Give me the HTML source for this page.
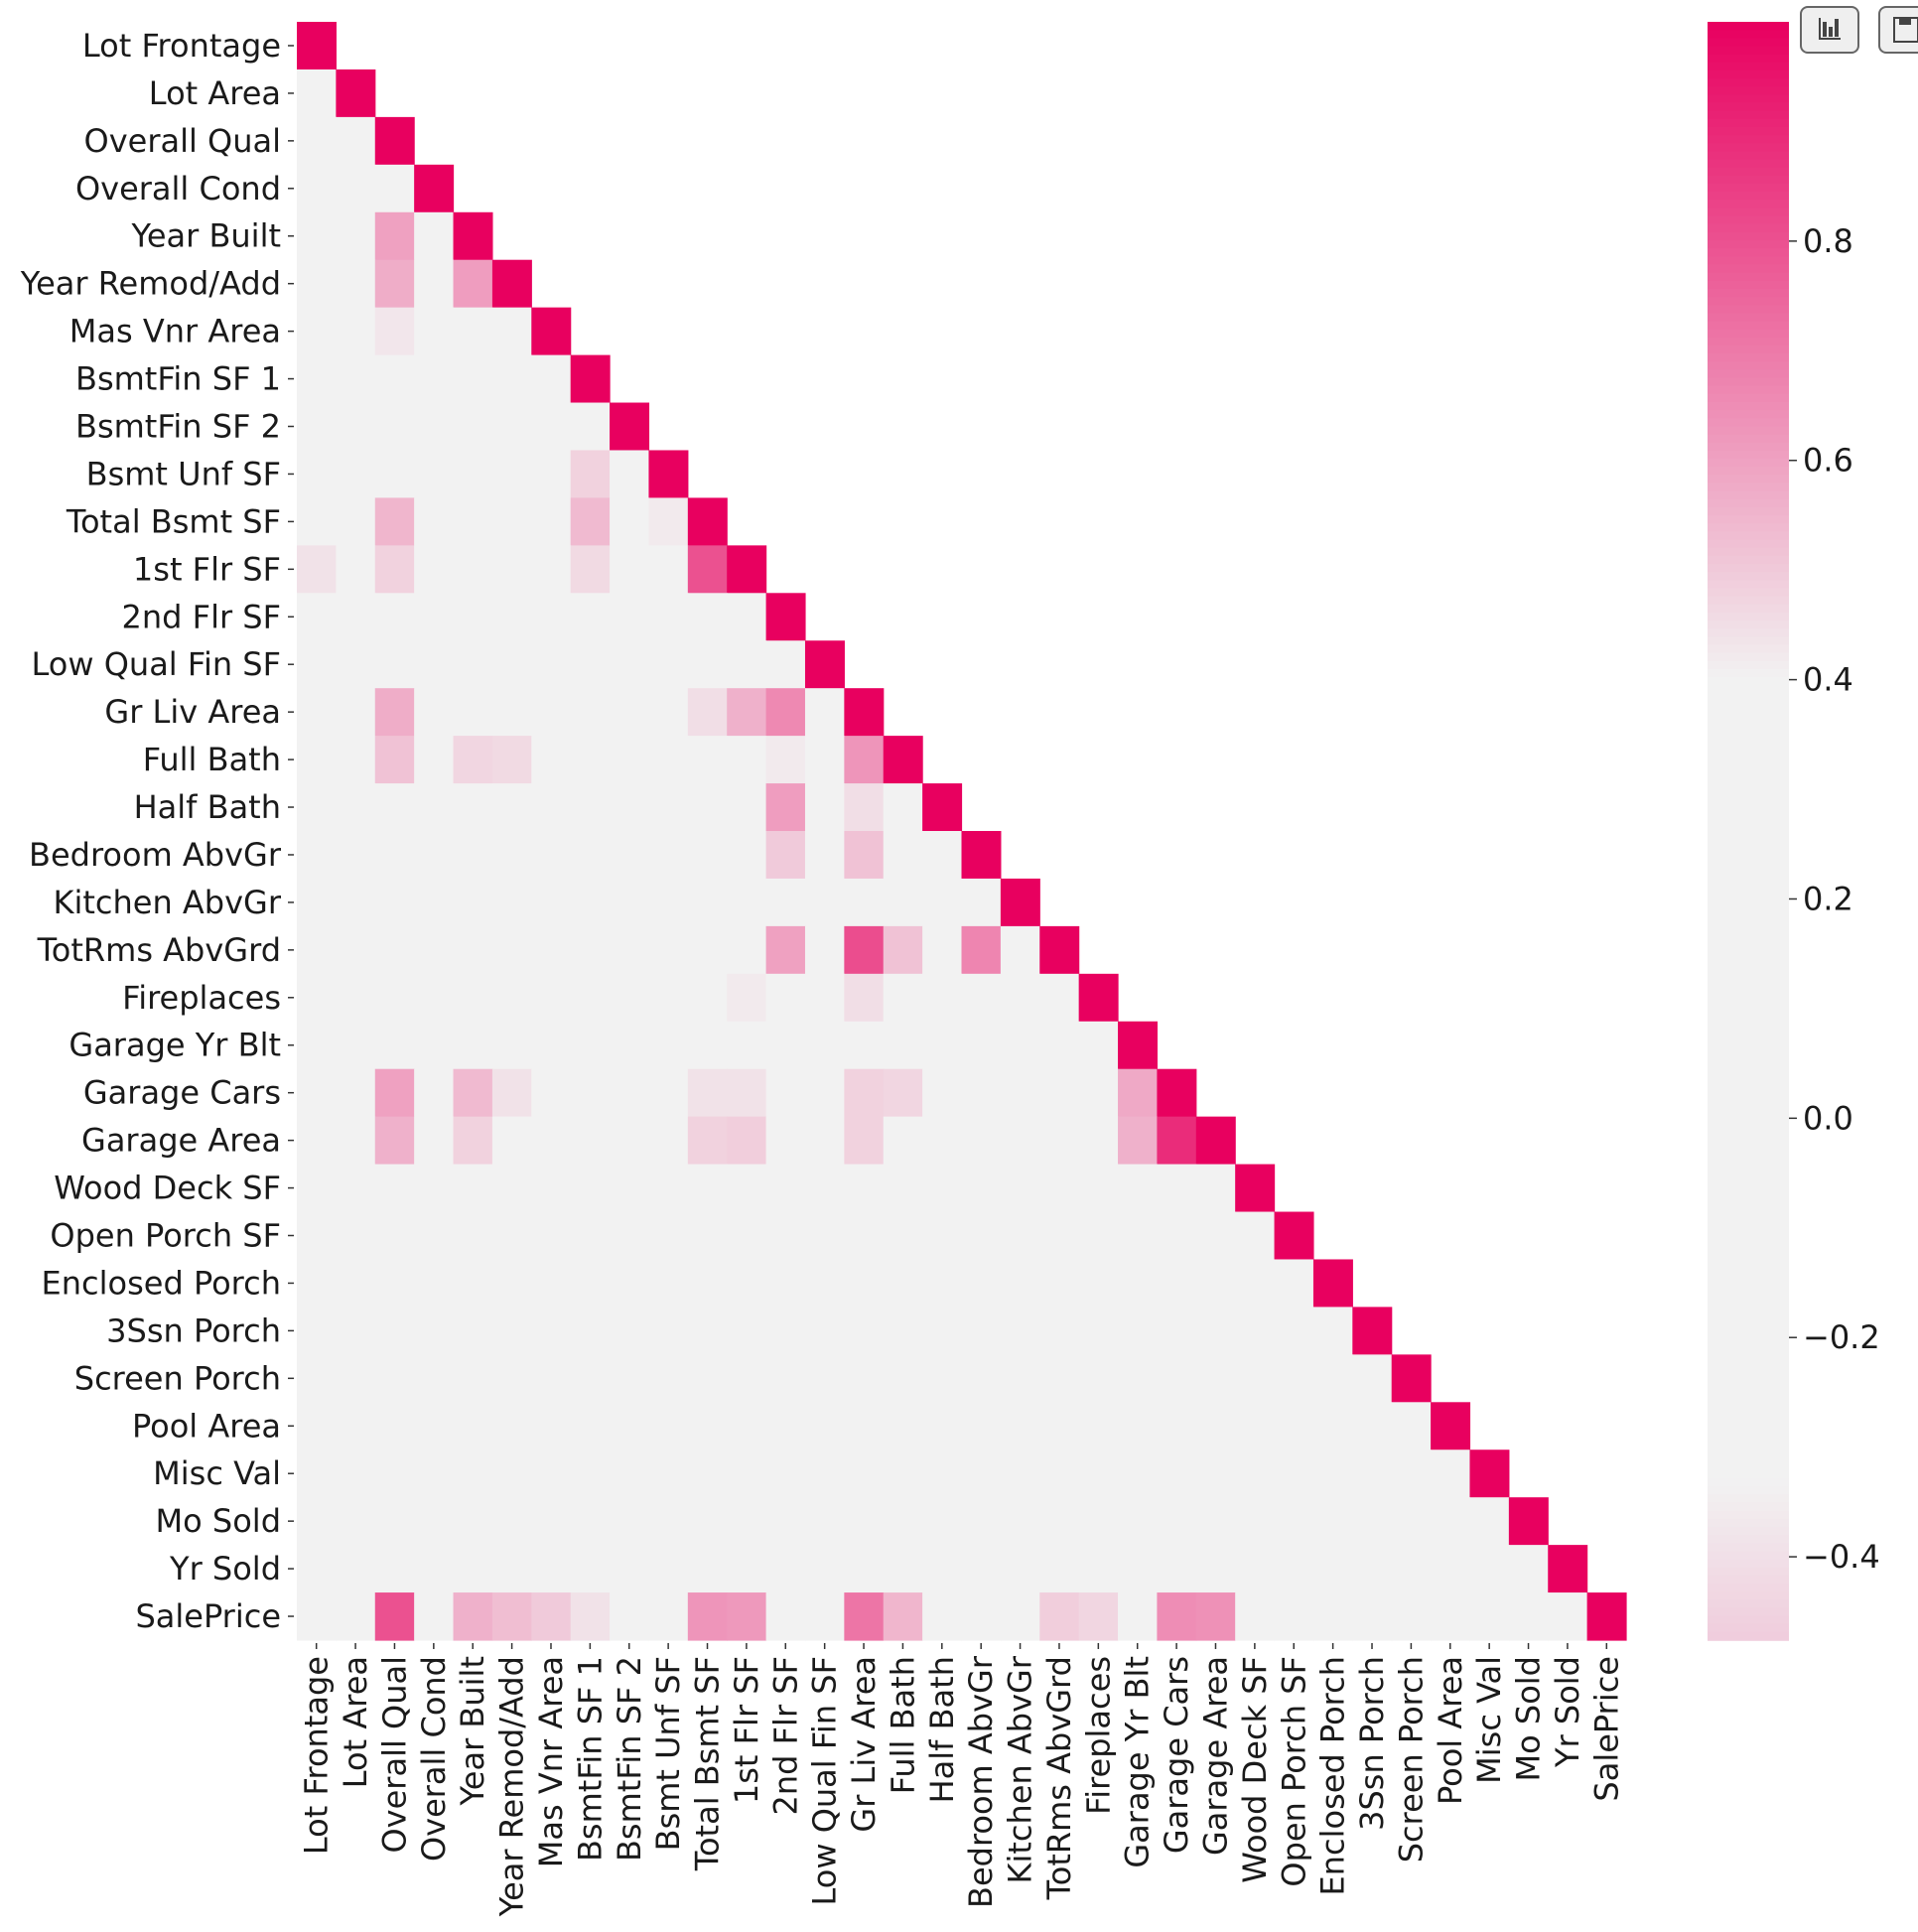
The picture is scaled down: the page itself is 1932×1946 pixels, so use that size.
<!DOCTYPE html>
<html><head><meta charset="utf-8">
<style>
html,body{margin:0;padding:0;background:#fff;width:1932px;height:1946px;overflow:hidden}
svg{display:block}
text{font-family:"DejaVu Sans","Liberation Sans",sans-serif;fill:#1a1a1a}
.btn{position:absolute;top:6px;width:60px;height:48px;border:2px solid #666;border-radius:8px;background:#efefef;box-sizing:border-box}
</style></head><body>
<svg id="chart" width="1932" height="1946" xmlns="http://www.w3.org/2000/svg"></svg>
<div class="btn" style="left:1813px">
<svg width="56" height="44"><rect x="17" y="10" width="2" height="22" fill="#444"/><rect x="17" y="30" width="22" height="2" fill="#444"/><rect x="21" y="14" width="4" height="15" fill="#444"/><rect x="27" y="19" width="4" height="10" fill="#444"/><rect x="33" y="11" width="4" height="18" fill="#444"/></svg></div>
<div class="btn" style="left:1892px">
<svg width="56" height="44"><rect x="14" y="10" width="24" height="24" fill="none" stroke="#444" stroke-width="2"/><rect x="19" y="10" width="12" height="7" fill="#444"/></svg></div>
<script>
const labels=["Lot Frontage","Lot Area","Overall Qual","Overall Cond","Year Built","Year Remod/Add","Mas Vnr Area","BsmtFin SF 1","BsmtFin SF 2","Bsmt Unf SF","Total Bsmt SF","1st Flr SF","2nd Flr SF","Low Qual Fin SF","Gr Liv Area","Full Bath","Half Bath","Bedroom AbvGr","Kitchen AbvGr","TotRms AbvGrd","Fireplaces","Garage Yr Blt","Garage Cars","Garage Area","Wood Deck SF","Open Porch SF","Enclosed Porch","3Ssn Porch","Screen Porch","Pool Area","Misc Val","Mo Sold","Yr Sold","SalePrice"];
// strong correlations [row, col, value]; all other lower-triangle cells are weak (0)
const corrRows=[4,5,5,6,9,10,10,10,10,11,11,11,11,14,14,14,14,15,15,15,15,15,16,16,17,17,19,19,19,19,20,20,22,22,22,22,22,22,22,22,23,23,23,23,23,23,23,33,33,33,33,33,33,33,33,33,33,33,33,33];
const corrCols=[2,2,4,2,7,2,7,9,6,0,2,7,10,2,10,11,12,2,4,5,12,14,12,14,12,14,12,14,15,17,11,14,2,4,5,10,11,14,15,21,2,4,10,11,14,21,22,2,4,5,6,7,10,11,14,15,19,20,22,23];
const corrVals=[0.6,0.57,0.61,0.43,0.48,0.55,0.54,0.42,0.39,0.44,0.48,0.46,0.80,0.57,0.45,0.56,0.66,0.52,0.47,0.46,0.42,0.63,0.61,0.45,0.50,0.52,0.60,0.81,0.52,0.67,0.42,0.45,0.6,0.54,0.44,0.44,0.44,0.48,0.47,0.58,0.56,0.48,0.48,0.49,0.48,0.56,0.89,0.80,0.56,0.53,0.50,0.44,0.63,0.62,0.71,0.55,0.49,0.47,0.65,0.64];
const cbTicks=[0.8,0.6,0.4,0.2,0.0,-0.2,-0.4];
const vmin=-0.476, vmax=1.0;

const NS="http://www.w3.org/2000/svg";
const svg=document.getElementById('chart');
const L=299,R=1638,T=22,B=1652,n=labels.length;
const cw=(R-L)/n, ch=(B-T)/n;
const FS=32;
const xPos=i=>L+i*cw, yPos=i=>T+i*ch;
function color(v){
  const g=[242,242,242];let c=g;
  if(v>=0.4){const t=Math.min(1,(v-0.4)/0.6);const h=[232,0,95];c=g.map((a,k)=>a+(h[k]-a)*t);}
  else if(v<=-0.33){const t=Math.min(1,(-0.33-v)/(0.476-0.33));const h=[240,204,220];c=g.map((a,k)=>a+(h[k]-a)*t);}
  return `rgb(${c.map(Math.round).join(',')})`;
}
function mk(tag,attrs){const e=document.createElementNS(NS,tag);for(const k in attrs)e.setAttribute(k,attrs[k]);svg.appendChild(e);return e;}
const M=[];for(let i=0;i<n;i++){M.push(new Array(n).fill(0));M[i][i]=1;}
corrRows.forEach((r,k)=>{M[r][corrCols[k]]=corrVals[k];});
for(let i=0;i<n;i++)for(let j=0;j<=i;j++){
  const e=mk('rect',{x:xPos(j),y:yPos(i),width:cw+0.6,height:ch+0.6,fill:color(M[i][j])});
  
  
}
labels.forEach((lab,i)=>{
  const yc=yPos(i)+ch/2;
  const t=mk('line',{x1:290,x2:296,y1:yc,y2:yc,stroke:'#333','stroke-width':1.5});
  
  
  const tx=mk('text',{x:283,y:yc+11,'text-anchor':'end','font-size':FS});
  tx.textContent=lab;
  
  
  const xc=xPos(i)+cw/2;
  const t2=mk('line',{x1:xc,x2:xc,y1:1655,y2:1661,stroke:'#333','stroke-width':1.5});
  
  
  const tx2=mk('text',{x:0,y:0,'text-anchor':'end','font-size':FS,transform:`translate(${xc+11},1668) rotate(-90)`});
  tx2.textContent=lab;
  
  
});
// colorbar
const cbL=1720,cbR=1802;
const cy=v=>T+(vmax-v)/(vmax-vmin)*(B-T);
const steps=200;
for(let s=0;s<steps;s++){
  const v=vmax-(s+0.5)/steps*(vmax-vmin);
  const e=mk('rect',{x:cbL,y:T+s*(B-T)/steps,width:cbR-cbL,height:(B-T)/steps+0.8,fill:color(v)});
  
  
}
cbTicks.forEach(v=>{
  const y=cy(v);
  const l=mk('line',{x1:cbR,x2:cbR+8,y1:y,y2:y,stroke:'#333','stroke-width':1.5});
  
  
  const t=mk('text',{x:cbR+14,y:y+11,'font-size':FS});
  t.textContent=(v<0?'\u2212':'')+Math.abs(v).toFixed(1);
  
  
});
</script>
</body></html>
